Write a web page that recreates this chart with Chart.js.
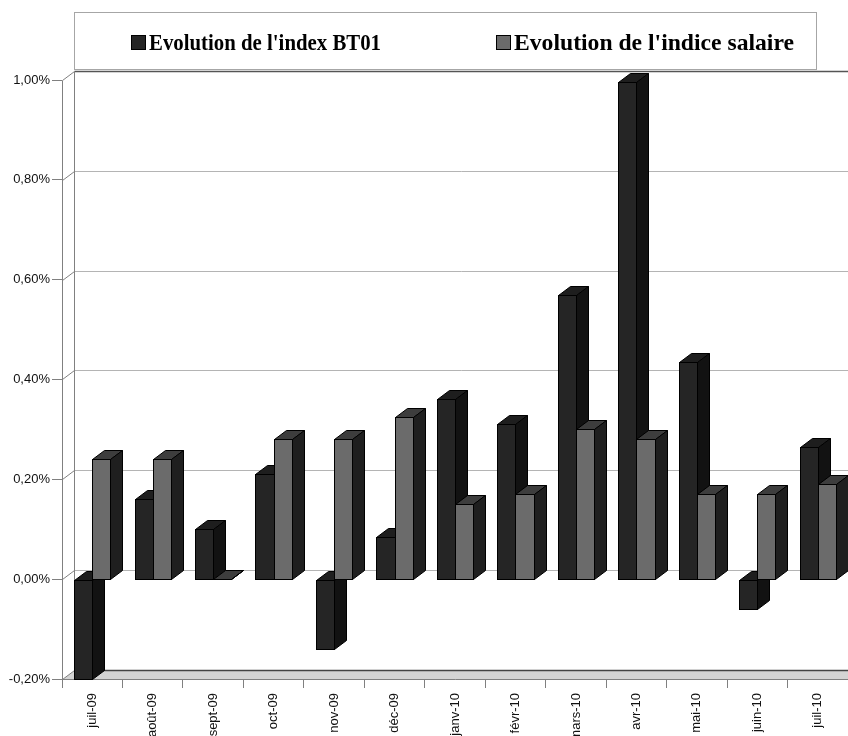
<!DOCTYPE html>
<html>
<head>
<meta charset="utf-8">
<script src="https://cdn.jsdelivr.net/npm/chart.js@4.4.1/dist/chart.umd.min.js"></script>
<style>
html,body{margin:0;padding:0;background:#fff;}
#wrap{width:848px;height:736px;position:relative;}
</style>
</head>
<body>
<div id="wrap"><canvas id="c"></canvas></div>
<script>
// ---- data ----
const categories = ['juil-09','août-09','sept-09','oct-09','nov-09','déc-09','janv-10','févr-10','mars-10','avr-10','mai-10','juin-10','juil-10'];
const bt01 = [-0.20, 0.16, 0.10, 0.21, -0.14, 0.085, 0.36, 0.31, 0.57, 0.995, 0.435, -0.06, 0.265];
const salaire = [0.24, 0.24, 0.00, 0.28, 0.28, 0.325, 0.15, 0.17, 0.30, 0.28, 0.17, 0.17, 0.19];
const seriesNames = ["Evolution de l'index BT01", "Evolution de l'indice salaire"];
const yTickValues = [-0.2, 0, 0.2, 0.4, 0.6, 0.8, 1.0];

// ---- style ----
const DX = 12, DY = -9;
const faces = [
  {front:'#252525', top:'#1e1e1e', side:'#121212'},
  {front:'#6b6b6b', top:'#3d3d3d', side:'#1f1f1f'}
];

function fmtPct(v){
  if (Math.abs(v) < 1e-9) v = 0;
  return v.toFixed(2).replace('.', ',') + '%';
}

function poly(ctx, pts, fill){
  ctx.beginPath();
  ctx.moveTo(pts[0][0], pts[0][1]);
  for (let i = 1; i < pts.length; i++) ctx.lineTo(pts[i][0], pts[i][1]);
  ctx.closePath();
  ctx.fillStyle = fill;
  ctx.fill();
  ctx.stroke();
}

const depthPlugin = {
  id: 'depth3d',
  beforeDatasetsDraw(chart){
    const ctx = chart.ctx, a = chart.chartArea, ys = chart.scales.y;
    const W = chart.width;
    ctx.save();
    const fb = Math.round(ys.getPixelForValue(ys.min)) + 0.5;
    const ft = Math.round(ys.getPixelForValue(ys.max)) + 0.5;
    const L = Math.round(a.left) + 0.5;
    // floor
    ctx.beginPath();
    ctx.moveTo(L, fb); ctx.lineTo(W, fb); ctx.lineTo(W, fb + DY); ctx.lineTo(L + DX, fb + DY); ctx.closePath();
    ctx.fillStyle = '#d4d4d4'; ctx.fill();
    // back wall grid lines + left wall diagonals
    ctx.lineWidth = 1;
    ys.ticks.forEach(t => {
      const py = Math.round(ys.getPixelForValue(t.value)) + 0.5;
      ctx.strokeStyle = (t.value === ys.max) ? '#555555' : (t.value === ys.min ? '#444444' : '#b4b4b4');
      ctx.lineWidth = (t.value === ys.max || t.value === ys.min) ? 1.5 : 1;
      ctx.beginPath(); ctx.moveTo(L + DX, py + DY); ctx.lineTo(W, py + DY); ctx.stroke();
      ctx.strokeStyle = '#808080'; ctx.lineWidth = 1;
      ctx.beginPath(); ctx.moveTo(L, py); ctx.lineTo(L + DX, py + DY); ctx.stroke();
    });
    // back wall left edge
    ctx.strokeStyle = '#808080'; ctx.lineWidth = 1;
    ctx.beginPath(); ctx.moveTo(L + DX, ft + DY); ctx.lineTo(L + DX, fb + DY); ctx.stroke();
    // front edges
    ctx.beginPath(); ctx.moveTo(L, fb); ctx.lineTo(W, fb); ctx.stroke();
    ctx.beginPath(); ctx.moveTo(L, ft); ctx.lineTo(L, fb); ctx.stroke();

    // bars
    ctx.strokeStyle = '#000'; ctx.lineWidth = 1; ctx.lineJoin = 'miter';
    const metas = chart.data.datasets.map((d, i) => chart.getDatasetMeta(i));
    for (let i = 0; i < categories.length; i++){
      metas.forEach((m, di) => {
        const el = m.data[i];
        if (!el) return;
        const f = faces[di];
        const l = Math.round(el.x - el.width / 2) + 0.5;
        const r = Math.round(el.x + el.width / 2) + 0.5;
        const t = Math.round(Math.min(el.y, el.base)) + 0.5;
        const b = Math.round(Math.max(el.y, el.base)) + 0.5;
        // front
        ctx.fillStyle = f.front;
        ctx.fillRect(l, t, r - l, b - t);
        ctx.strokeRect(l, t, r - l, b - t);
        // top
        poly(ctx, [[l, t], [r, t], [r + DX, t + DY], [l + DX, t + DY]], f.top);
        // side
        poly(ctx, [[r, t], [r + DX, t + DY], [r + DX, b + DY], [r, b]], f.side);
      });
    }
    ctx.restore();
    return false;
  },
  afterDraw(chart){
    const ctx = chart.ctx;
    ctx.save();
    // legend frame
    ctx.strokeStyle = '#a6a6a6'; ctx.lineWidth = 1;
    ctx.strokeRect(74.5, 12.5, 742, 57);
    const itemX = [131, 496];
    const textW = [232, 280];
    ctx.font = 'bold 24px "Liberation Serif", "Times New Roman", serif';
    ctx.textBaseline = 'alphabetic';
    ctx.textAlign = 'left';
    chart.data.datasets.forEach((d, i) => {
      const x = itemX[i];
      ctx.fillStyle = faces[i].front;
      ctx.strokeStyle = '#000';
      ctx.fillRect(x + 0.5, 35.5, 14, 14);
      ctx.strokeRect(x + 0.5, 35.5, 14, 14);
      ctx.fillStyle = '#000';
      ctx.fillText(d.label, x + 18, 50, textW[i]);
    });
    ctx.restore();
  }
};

new Chart(document.getElementById('c'), {
  type: 'bar',
  data: {
    labels: categories,
    datasets: [
      {label: seriesNames[0], data: bt01, backgroundColor: faces[0].front, borderColor: '#000', borderWidth: 1},
      {label: seriesNames[1], data: salaire, backgroundColor: faces[1].front, borderColor: '#000', borderWidth: 1}
    ]
  },
  options: {
    responsive: true,
    maintainAspectRatio: false,
    animation: false,
    events: [],
    datasets: {bar: {categoryPercentage: 0.6, barPercentage: 1.0}},
    layout: {padding: {top: 80, right: 0, left: 0, bottom: 0}},
    plugins: {legend: {display: false}, tooltip: {enabled: false}},
    scales: {
      x: {
        grid: {display: true, offset: true, drawOnChartArea: false, drawTicks: true, tickLength: 9, color: '#808080'},
        border: {display: false},
        ticks: {
          autoSkip: false, minRotation: 90, maxRotation: 90, padding: 5,
          color: '#111', font: {family: '"Liberation Sans", Arial, sans-serif', size: 13}
        },
        afterFit(s){ s.height = 57; }
      },
      y: {
        min: -0.2, max: 1.0,
        afterBuildTicks(s){ s.ticks = yTickValues.map(v => ({value: v})); },
        grid: {display: true, drawOnChartArea: false, drawTicks: true, tickLength: 10, color: '#808080'},
        border: {display: false},
        ticks: {
          padding: 2, color: '#111',
          font: {family: '"Liberation Sans", Arial, sans-serif', size: 13},
          callback: (v) => fmtPct(v)
        },
        afterFit(s){ s.width = 62; }
      }
    }
  },
  plugins: [depthPlugin]
});
</script>
</body>
</html>
